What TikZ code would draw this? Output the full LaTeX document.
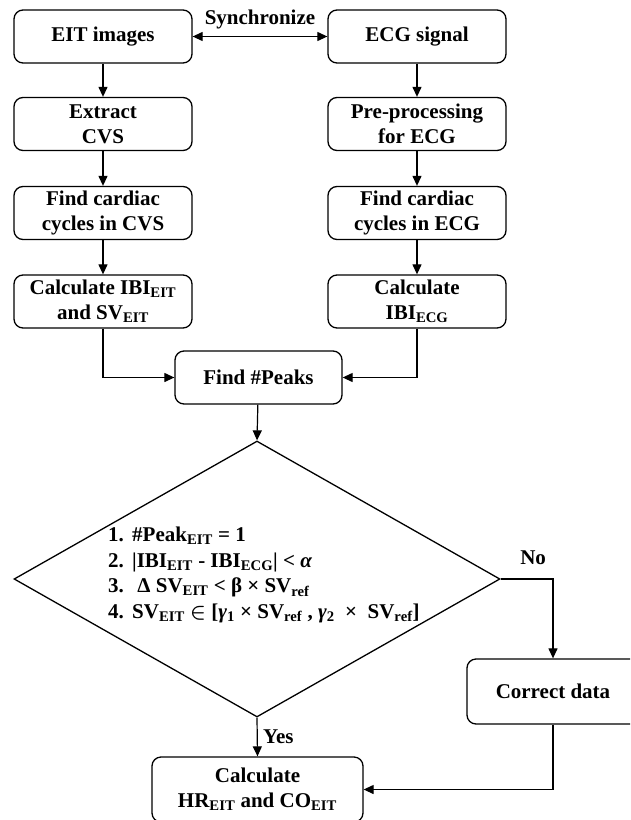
\documentclass[tikz,border=0pt]{standalone}
\usepackage{amsmath}
\usepackage{fontspec}
\setmainfont{Liberation Serif}
\usetikzlibrary{arrows.meta, shapes.geometric}
\newcommand{\sbs}[1]{\textsubscript{#1}}
\newcommand{\itemno}[1]{\makebox[24pt][l]{#1}}

\begin{document}
\begin{tikzpicture}[
  x=1pt, y=-1pt,
  font=\fontsize{21}{25}\selectfont\bfseries,
  >={Triangle[length=10pt, width=9pt]},
  stepbox/.style={draw, line width=1.3pt, rounded corners=9pt, align=center,
                  inner sep=2pt, minimum width=178pt, minimum height=53pt},
  decision/.style={draw, diamond, line width=1.3pt, inner sep=0pt,
                   minimum width=486pt, minimum height=276pt},
  link/.style={->, line width=1.2pt},
]
  \clip (0,0) rectangle (630,820);
  % EIT column
  \node[stepbox] (eit) at (103, 36.5) {EIT images};
  \node[stepbox] (ext) at (103, 124) {Extract\\CVS};
  \node[stepbox] (fcl) at (103, 213) {Find cardiac\\cycles in CVS};
  \node[stepbox] (cl) at (103, 301.5) {Calculate IBI\sbs{EIT}\\and SV\sbs{EIT}};
  % ECG column
  \node[stepbox] (ecg) at (417, 36.5) {ECG signal};
  \node[stepbox] (pre) at (417, 124) {Pre-processing\\for ECG};
  \node[stepbox] (fcr) at (417, 213) {Find cardiac\\cycles in ECG};
  \node[stepbox] (cr) at (417, 301.5) {Calculate\\IBI\sbs{ECG}};
  % merge and decision
  \node[stepbox, minimum width=167pt] (peaks) at (258.5, 377.5) {Find \#Peaks};
  \node[decision] (dia) at (257, 579) {};
  \node[align=left, anchor=west, inner sep=0pt,
        font=\fontsize{21}{25.5}\selectfont\bfseries] (cond) at (108, 575)
    {\itemno{1.}\#Peak\sbs{EIT} = 1\\
     \itemno{2.}|IBI\sbs{EIT} - IBI\sbs{ECG}| < \textit{α}\\
     \itemno{3.}\ Δ SV\sbs{EIT} < β × SV\sbs{ref}\\
     \itemno{4.}SV\sbs{EIT} $\boldsymbol{\in}$ [\textit{γ}\sbs{1} × SV\sbs{ref} , \textit{γ}\sbs{2}\ \ ×\ \ SV\sbs{ref}]};
  \node[stepbox, minimum width=172pt, minimum height=65pt] (corr) at (553, 691.5) {Correct data};
  \node[stepbox, minimum width=211pt, minimum height=65pt] (hr) at (257.5, 789.5)
    {Calculate\\HR\sbs{EIT} and CO\sbs{EIT}};
  % connectors
  \draw[link, <->] (eit) -- node[above=4pt] (sync) {Synchronize} (ecg);
  \draw[link] (eit) -- (ext);
  \draw[link] (ext) -- (fcl);
  \draw[link] (fcl) -- (cl);
  \draw[link] (ecg) -- (pre);
  \draw[link] (pre) -- (fcr);
  \draw[link] (fcr) -- (cr);
  \draw[link] (cl.south) |- (peaks.west);
  \draw[link] (cr.south) |- (peaks.east);
  \draw[link] (peaks) -- (dia.north);
  \draw[link] (dia.east) -| node[pos=0.31, above=10pt] (no) {No} (corr.north);
  \draw[link] (dia.south) -- node[right=2pt] (yes) {Yes} (hr.north);
  \draw[link] (corr.south) |- (hr.east);
\end{tikzpicture}
\end{document}
